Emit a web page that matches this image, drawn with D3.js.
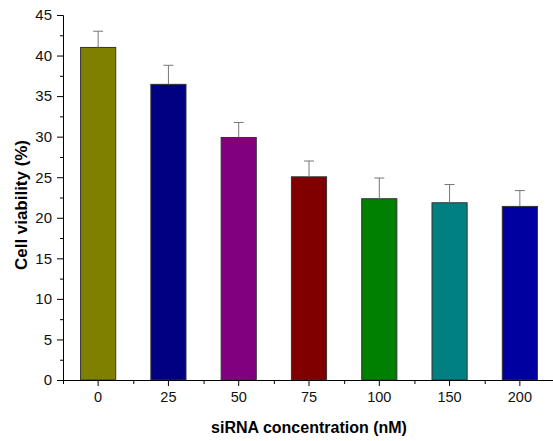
<!DOCTYPE html>
<html>
<head>
<meta charset="utf-8">
<script src="https://cdn.jsdelivr.net/npm/d3@7"></script>
<style>
  body { margin: 0; background: #fff; }
  text { font-family: "Liberation Sans", Arial, sans-serif; }
</style>
</head>
<body>
<script>
  // data
  const concentrations = ["0", "25", "50", "75", "100", "150", "200"];
  const viability = [41.0, 36.45, 29.9, 25.05, 22.35, 21.85, 21.4];
  const errors = [2.0, 2.35, 1.85, 1.95, 2.55, 2.25, 1.95];
  const barColors = ["#808000", "#000080", "#800080", "#800000", "#008000", "#008080", "#0000a0"];
  const yTicks = [0, 5, 10, 15, 20, 25, 30, 35, 40, 45];

  const W = 553, H = 441;
  const margin = {top: 15, right: 0, bottom: 61, left: 63};
  const width = 492;   // runs past the right edge, like the picture
  const height = H - margin.top - margin.bottom;

  const svg = d3.select("body").append("svg")
      .attr("width", W)
      .attr("height", H);

  const g = svg.append("g")
      .attr("transform", "translate(" + margin.left + "," + margin.top + ")");

  const x = d3.scaleBand()
      .domain(concentrations)
      .range([0, width])
      .paddingInner(0.5)
      .paddingOuter(0.25);

  const y = d3.scaleLinear().domain([0, 45]).range([height, 0]);

  // bars
  g.selectAll("rect.bar")
    .data(viability)
    .enter().append("rect")
      .attr("class", "bar")
      .attr("x", (d, i) => x(concentrations[i]))
      .attr("y", d => y(d))
      .attr("width", x.bandwidth())
      .attr("height", d => height - y(d))
      .attr("fill", (d, i) => barColors[i])
      .attr("stroke", "#333")
      .attr("stroke-width", 1);

  // error bars (upper only)
  const cx = i => x(concentrations[i]) + x.bandwidth() / 2;
  const eb = g.append("g").attr("stroke", "#777").attr("stroke-width", 1);
  viability.forEach((v, i) => {
    eb.append("line")
      .attr("x1", cx(i)).attr("x2", cx(i))
      .attr("y1", y(v)).attr("y2", y(v + errors[i]));
    eb.append("line")
      .attr("x1", cx(i) - 5).attr("x2", cx(i) + 5)
      .attr("y1", y(v + errors[i])).attr("y2", y(v + errors[i]));
  });

  // y axis
  const yAxis = g.append("g")
      .call(d3.axisLeft(y).tickValues(yTicks).tickSize(6).tickPadding(5));
  yAxis.selectAll(".tick text").attr("font-size", 15);
  // minor y ticks
  yAxis.selectAll("line.minor")
    .data(d3.range(2.5, 45, 5))
    .enter().append("line")
      .attr("class", "minor")
      .attr("x1", -3).attr("x2", 0)
      .attr("y1", d => y(d) + 0.5).attr("y2", d => y(d) + 0.5)
      .attr("stroke", "#000");

  // x axis
  const xAxis = g.append("g")
      .attr("transform", "translate(0," + height + ")")
      .call(d3.axisBottom(x).tickSize(6).tickPadding(6).tickSizeOuter(0));
  xAxis.selectAll(".tick text").attr("font-size", 14.5);
  const step = x.step();
  xAxis.selectAll("line.minor")
    .data(d3.range(0, concentrations.length + 1))
    .enter().append("line")
      .attr("class", "minor")
      .attr("x1", d => d * step + 0.5).attr("x2", d => d * step + 0.5)
      .attr("y1", 0).attr("y2", 4)
      .attr("stroke", "#000");

  g.selectAll(".tick text")
      .attr("font-family", "'Liberation Sans', Arial, sans-serif")
      .attr("fill", "#111");
  g.selectAll(".domain").attr("stroke", "#000");

  // axis titles
  svg.append("text")
      .attr("x", margin.left + width / 2)
      .attr("y", 433)
      .attr("text-anchor", "middle")
      .attr("font-size", 16)
      .attr("font-weight", "bold")
      .text("siRNA concentration (nM)");

  svg.append("text")
      .attr("transform", "translate(27,205) rotate(-90)")
      .attr("text-anchor", "middle")
      .attr("font-size", 16)
      .attr("font-weight", "bold")
      .attr("textLength", 130)
      .attr("lengthAdjust", "spacingAndGlyphs")
      .text("Cell viability (%)");
</script>
</body>
</html>
